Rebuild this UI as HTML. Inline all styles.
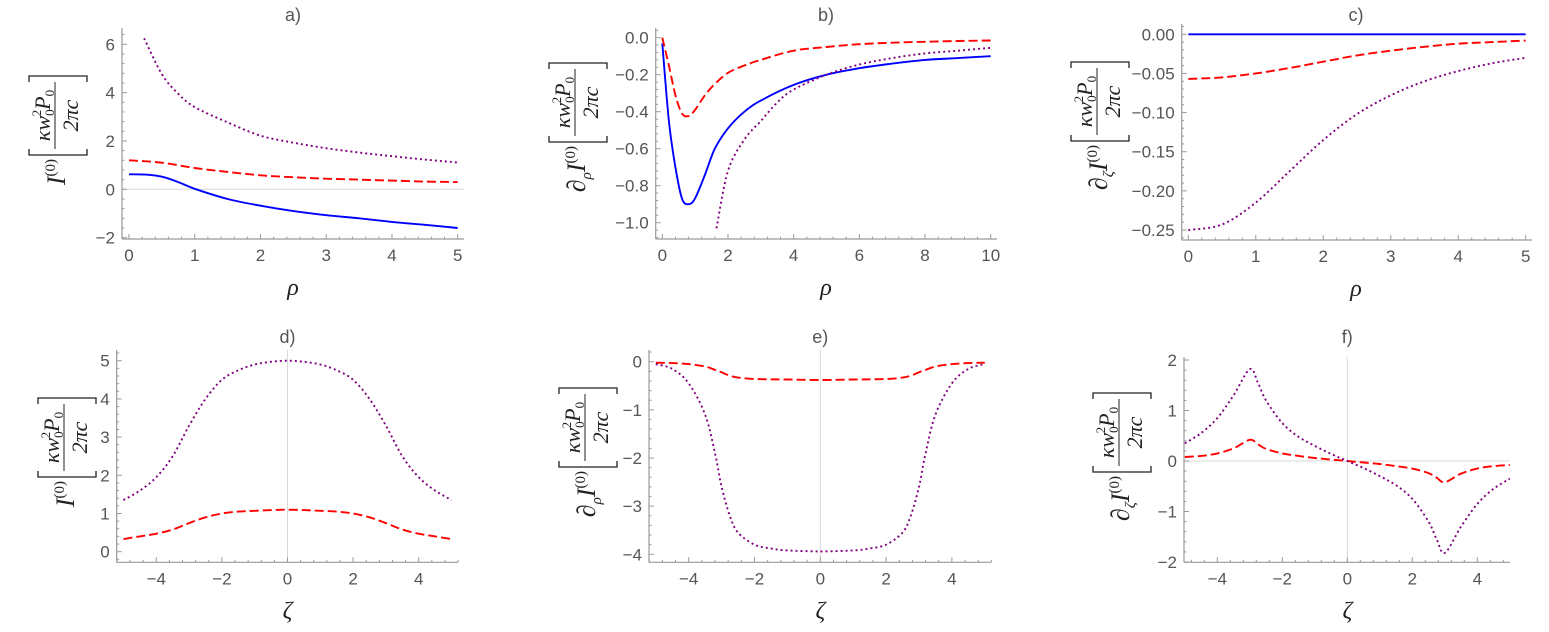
<!DOCTYPE html>
<html><head><meta charset="utf-8">
<style>
html,body{margin:0;padding:0;background:#fff;}
svg{display:block;}
.tk{font-family:"Liberation Sans",sans-serif;font-size:17px;fill:#555;}
.ttl{font-family:"Liberation Sans",sans-serif;font-size:18px;fill:#555;}
.ax{font-family:"Liberation Serif",serif;font-style:italic;font-size:24px;fill:#222;}
.yl{font-family:"Liberation Serif",serif;font-style:italic;fill:#222;}
</style></head>
<body>
<svg id="chart" width="1549" height="632" viewBox="0 0 1549 632" xmlns="http://www.w3.org/2000/svg"></svg>
<script>
// ---- data ----
const aX = [0,0.25,0.5,0.75,1,1.5,2,2.5,3,3.5,4,4.5,5];
const aBlue = [0.62,0.61,0.52,0.3,0.02,-0.4,-0.68,-0.9,-1.07,-1.2,-1.35,-1.47,-1.6];
const aRedX = [0,0.5,1,1.5,2,2.5,3,3.5,4,4.5,5];
const aRed = [1.2,1.1,0.88,0.72,0.58,0.5,0.44,0.4,0.36,0.32,0.3];
const aPurX = [0.23,0.5,0.75,1,1.5,2,2.5,3,3.5,4,4.5,5];
const aPur = [6.25,4.76,3.95,3.4,2.77,2.22,1.93,1.7,1.52,1.37,1.23,1.11];

const bX = [0,0.2,0.4,0.6,0.8,1.0,1.3,1.6,2,2.5,3,4,5,6,7,8,9,10];
const bBlue = [-0.03,-0.45,-0.7,-0.87,-0.9,-0.868,-0.74,-0.6,-0.49,-0.4,-0.34,-0.255,-0.2,-0.165,-0.14,-0.12,-0.11,-0.1];
const bRed = [0.0,-0.15,-0.31,-0.41,-0.423,-0.39,-0.31,-0.25,-0.19,-0.15,-0.12,-0.07,-0.05,-0.035,-0.027,-0.022,-0.018,-0.015];
const bPurX = [1.65,2,2.5,3,3.5,4,5,6,7,8,9,10];
const bPur = [-1.03,-0.72,-0.55,-0.45,-0.35,-0.28,-0.2,-0.145,-0.11,-0.085,-0.07,-0.055];

const cX = [0,0.5,1,1.5,2,2.5,3,3.5,4,4.5,5];
const cBlue = [0,0,0,0,0,0,0,0,0,0,0];
const cRed = [-0.057,-0.055,-0.05,-0.043,-0.035,-0.027,-0.021,-0.016,-0.012,-0.01,-0.008];
const cPur = [-0.25,-0.243,-0.215,-0.175,-0.135,-0.102,-0.078,-0.06,-0.047,-0.037,-0.03];

const dX = [-5,-4.5,-4,-3.5,-3,-2.5,-2,-1.5,-1,-0.5,0,0.5,1,1.5,2,2.5,3,3.5,4,4.5,5];
const dPur = [1.35,1.6,1.95,2.5,3.3,4.0,4.5,4.75,4.9,4.97,5.0,4.97,4.9,4.75,4.5,4.0,3.3,2.5,1.95,1.6,1.35];
const dRed = [0.33,0.4,0.47,0.58,0.75,0.9,1.0,1.05,1.07,1.09,1.1,1.09,1.07,1.05,1.0,0.9,0.75,0.58,0.47,0.4,0.33];

const eX = [-5,-4.5,-4,-3.5,-3.2,-3,-2.75,-2.5,-2,-1.5,-1,0,1,1.5,2,2.5,2.75,3,3.2,3.5,4,4.5,5];
const ePur = [-0.05,-0.15,-0.45,-1.1,-1.9,-2.6,-3.2,-3.55,-3.8,-3.88,-3.92,-3.94,-3.92,-3.88,-3.8,-3.55,-3.2,-2.6,-1.9,-1.1,-0.45,-0.15,-0.05];
const eRed = [-0.02,-0.03,-0.05,-0.1,-0.17,-0.22,-0.29,-0.33,-0.36,-0.365,-0.37,-0.38,-0.37,-0.365,-0.36,-0.33,-0.29,-0.22,-0.17,-0.1,-0.05,-0.03,-0.02];

const fX = [-5,-4.5,-4,-3.5,-3,-2.75,-2.5,-2,-1.5,-1,-0.5,0,0.5,1,1.5,2,2.5,2.75,3,3.5,4,4.5,5];
const fPur = [0.35,0.55,0.85,1.3,1.82,1.55,1.2,0.75,0.48,0.3,0.14,0,-0.14,-0.3,-0.48,-0.75,-1.2,-1.55,-1.82,-1.3,-0.85,-0.55,-0.35];
const fRed = [0.08,0.1,0.15,0.25,0.42,0.33,0.24,0.15,0.1,0.06,0.03,0,-0.03,-0.06,-0.1,-0.15,-0.24,-0.33,-0.42,-0.25,-0.15,-0.1,-0.08];

const aXTicks = [0,1,2,3,4,5], aYTicks = [-2,0,2,4,6];
const bXTicks = [0,2,4,6,8,10], bYTicks = [0,-0.2,-0.4,-0.6,-0.8,-1.0];
const bYLabels = ["0.0","\u22120.2","\u22120.4","\u22120.6","\u22120.8","\u22121.0"];
const cXTicks = [0,1,2,3,4,5], cYTicks = [0,-0.05,-0.1,-0.15,-0.2,-0.25];
const cYLabels = ["0.00","\u22120.05","\u22120.10","\u22120.15","\u22120.20","\u22120.25"];
const zTicks = [-4,-2,0,2,4];
const dYTicks = [0,1,2,3,4,5], eYTicks = [0,-1,-2,-3,-4], fYTicks = [-2,-1,0,1,2];

const NS = "http://www.w3.org/2000/svg";
const svg = document.getElementById('chart');
function mk(tag, attrs, parent){ const e=document.createElementNS(NS,tag); for(const k in attrs) e.setAttribute(k,attrs[k]); (parent||svg).appendChild(e); return e; }
function fmt(v){ return v<0 ? "\u2212"+Math.abs(v) : String(v); }
function smooth(pts){
  let d = "M"+pts[0][0].toFixed(1)+","+pts[0][1].toFixed(1);
  for(let i=0;i<pts.length-1;i++){
    const p0=pts[Math.max(i-1,0)],p1=pts[i],p2=pts[i+1],p3=pts[Math.min(i+2,pts.length-1)];
    const c1=[p1[0]+(p2[0]-p0[0])/6,p1[1]+(p2[1]-p0[1])/6];
    const c2=[p2[0]-(p3[0]-p1[0])/6,p2[1]-(p3[1]-p1[1])/6];
    d+=" C"+c1[0].toFixed(1)+","+c1[1].toFixed(1)+" "+c2[0].toFixed(1)+","+c2[1].toFixed(1)+" "+p2[0].toFixed(1)+","+p2[1].toFixed(1);
  }
  return d;
}
const STY = {
  blue:{stroke:"#0000ff",dash:""},
  red:{stroke:"#ff0000",dash:"9,4"},
  pur:{stroke:"#800080",dash:"2,3"}
};

function panel(p){
  const g = mk('g',{});
  
  
  const sx = v => p.x0px + (v - p.xv0)*(p.x1px-p.x0px)/(p.xv1-p.xv0);
  const sy = v => p.y0px + (v - p.yv0)*(p.y1px-p.y0px)/(p.yv1-p.yv0);
  if(p.hgrid){ const l=mk('line',{x1:p.left,x2:p.right,y1:sy(0),y2:sy(0),stroke:"#d8d8d8","stroke-width":1},g);
      }
  if(p.vgrid){ const l=mk('line',{x1:sx(0),x2:sx(0),y1:p.top,y2:p.bottom,stroke:"#d8d8d8","stroke-width":1},g);
      }
  const xa=mk('line',{x1:p.left,x2:p.right,y1:p.bottom,y2:p.bottom,stroke:"#999","stroke-width":1.2},g);
   
  const ya=mk('line',{x1:p.left,x2:p.left,y1:p.top,y2:p.bottom,stroke:"#999","stroke-width":1.2},g);
   
  const xs = p.xt[1]-p.xt[0];
  for(let v=p.xt[0]-xs; v<=p.xt[p.xt.length-1]+xs+1e-9; v+=xs/5){
    const X=sx(v); if(X<p.left-0.5||X>p.right+0.5) continue;
    const major = p.xt.some(t=>Math.abs(t-v)<1e-6);
    mk('line',{x1:X,x2:X,y1:p.bottom,y2:p.bottom-(major?5:2.5),stroke:"#999","stroke-width":1},g);
  }
  p.xt.forEach((v,i)=>{
    const t=mk('text',{x:sx(v),y:p.bottom+22,"text-anchor":"middle",class:"tk"},g);
     
    t.textContent = p.xl ? p.xl[i] : fmt(v);
  });
  const ys = Math.abs(p.yt[1]-p.yt[0]);
  const ymin=Math.min(...p.yt), ymax=Math.max(...p.yt);
  for(let v=ymin-ys; v<=ymax+ys+1e-9; v+=ys/5){
    const Y=sy(v); if(Y<p.top-0.5||Y>p.bottom+0.5) continue;
    const major = p.yt.some(t=>Math.abs(t-v)<1e-6);
    mk('line',{x1:p.left,x2:p.left+(major?5:2.5),y1:Y,y2:Y,stroke:"#999","stroke-width":1},g);
  }
  p.yt.forEach((v,i)=>{
    const t=mk('text',{x:p.left-7,y:sy(v)+6,"text-anchor":"end",class:"tk"},g);
     
    t.textContent = p.yl ? p.yl[i] : fmt(v);
  });
  p.series.forEach(s=>{
    const pts = s.x.map((xv,i)=>[sx(xv),sy(s.y[i])]);
    const path=mk('path',{d:smooth(pts),fill:"none",stroke:STY[s.c].stroke,"stroke-width":1.9,"stroke-dasharray":STY[s.c].dash},g);
     
  });
  const tt=mk('text',{x:p.tx,y:p.ty,"text-anchor":"middle",class:"ttl"},g);
   
  tt.textContent=p.id+")";
  const xlab=mk('text',{x:p.tx,y:p.bottom+56,"text-anchor":"middle",class:"ax"},g);
   
  xlab.textContent=p.xname;
  const bb = p.bt+79;
  const yg = mk('g',{transform:"translate("+p.fx+","+bb+") rotate(-90)"},g);
   
  const pre = mk('text',{x:-4,y:10,"text-anchor":"end",class:"yl","font-size":"26"},yg);
  if(p.pre){ pre.appendChild(document.createTextNode("\u2202"));
    const sb=mk('tspan',{dy:6,"font-size":"15"},pre); sb.textContent=p.pre;
    const ii=mk('tspan',{dy:-6},pre); ii.textContent="I"; }
  else pre.appendChild(document.createTextNode("I"));
  const sp=mk('tspan',{dy:-10,"font-size":"15","font-style":"normal"},pre); sp.textContent="(0)";
  mk('path',{d:"M6,-26 L0,-26 L0,32 L6,32 M73,-26 L79,-26 L79,32 L73,32",fill:"none",stroke:"#222","stroke-width":1.3},yg);
  mk('line',{x1:6,x2:73,y1:0,y2:0,stroke:"#222","stroke-width":1},yg);
  const num=mk('text',{x:39.5,y:-5,"text-anchor":"middle",class:"yl","font-size":"22"},yg);
  num.appendChild(document.createTextNode("\u03bAw"));
  const s0=mk('tspan',{dy:4,"font-size":"13","font-style":"normal"},num); s0.textContent="0";
  const s2=mk('tspan',{dx:-7,dy:-13,"font-size":"13","font-style":"normal"},num); s2.textContent="2";
  const pp=mk('tspan',{dy:9},num); pp.textContent="P";
  const s3=mk('tspan',{dy:4,"font-size":"13","font-style":"normal"},num); s3.textContent="0";
  const den=mk('text',{x:39.5,y:23,"text-anchor":"middle",class:"yl","font-size":"22"},yg);
  den.textContent="2\u03c0c";
}

panel({id:"a",x0px:129,x1px:457.7,xv0:0,xv1:5,y0px:189.3,y1px:44.3,yv0:0,yv1:6,
  left:122,right:464,top:28,bottom:239,xt:aXTicks,yt:aYTicks,hgrid:true,vgrid:false,
  tx:293,ty:21,xname:"\u03c1",fx:55,bt:76,pre:null,
  series:[{x:aX,y:aBlue,c:"blue",name:"series-blue-solid"},{x:aRedX,y:aRed,c:"red",name:"series-red-dashed"},{x:aPurX,y:aPur,c:"pur",name:"series-purple-dotted"}]});
panel({id:"b",x0px:662.3,x1px:990.7,xv0:0,xv1:10,y0px:37.7,y1px:222.7,yv0:0,yv1:-1,
  left:655.7,right:997,top:28,bottom:239,xt:bXTicks,yt:bYTicks,yl:bYLabels,hgrid:false,vgrid:false,
  tx:826,ty:21,xname:"\u03c1",fx:575,bt:63,pre:"\u03c1",
  series:[{x:bX,y:bBlue,c:"blue",name:"series-blue-solid"},{x:bX,y:bRed,c:"red",name:"series-red-dashed"},{x:bPurX,y:bPur,c:"pur",name:"series-purple-dotted"}]});
panel({id:"c",x0px:1188.3,x1px:1525.7,xv0:0,xv1:5,y0px:34.3,y1px:230,yv0:0,yv1:-0.25,
  left:1181.7,right:1532,top:24,bottom:240,xt:cXTicks,yt:cYTicks,yl:cYLabels,hgrid:false,vgrid:false,
  tx:1356,ty:21,xname:"\u03c1",fx:1097,bt:62,pre:"\u03b6",
  series:[{x:cX,y:cBlue,c:"blue",name:"series-blue-solid"},{x:cX,y:cRed,c:"red",name:"series-red-dashed"},{x:cX,y:cPur,c:"pur",name:"series-purple-dotted"}]});
panel({id:"d",x0px:123.5,x1px:451.5,xv0:-5,xv1:5,y0px:551.7,y1px:360.7,yv0:0,yv1:5,
  left:116.7,right:458,top:350,bottom:562.3,xt:zTicks,yt:dYTicks,hgrid:false,vgrid:true,
  tx:287.5,ty:343,xname:"\u03b6",fx:64,bt:398,pre:null,
  series:[{x:dX,y:dRed,c:"red",name:"series-red-dashed"},{x:dX,y:dPur,c:"pur",name:"series-purple-dotted"}]});
panel({id:"e",x0px:655.8,x1px:984.8,xv0:-5,xv1:5,y0px:361.7,y1px:554.3,yv0:0,yv1:-4,
  left:649,right:991,top:350,bottom:562.3,xt:zTicks,yt:eYTicks,hgrid:false,vgrid:true,
  tx:820.3,ty:343,xname:"\u03b6",fx:585,bt:388,pre:"\u03c1",
  series:[{x:eX,y:eRed,c:"red",name:"series-red-dashed"},{x:eX,y:ePur,c:"pur",name:"series-purple-dotted"}]});
panel({id:"f",x0px:1184.8,x1px:1509.8,xv0:-5,xv1:5,y0px:461,y1px:360,yv0:0,yv1:2,
  left:1184,right:1510,top:357,bottom:562.3,xt:zTicks,yt:fYTicks,hgrid:true,vgrid:true,
  tx:1347.3,ty:343,xname:"\u03b6",fx:1119,bt:393,pre:"\u03b6",
  series:[{x:fX,y:fRed,c:"red",name:"series-red-dashed"},{x:fX,y:fPur,c:"pur",name:"series-purple-dotted"}]});
</script>
</body></html>
